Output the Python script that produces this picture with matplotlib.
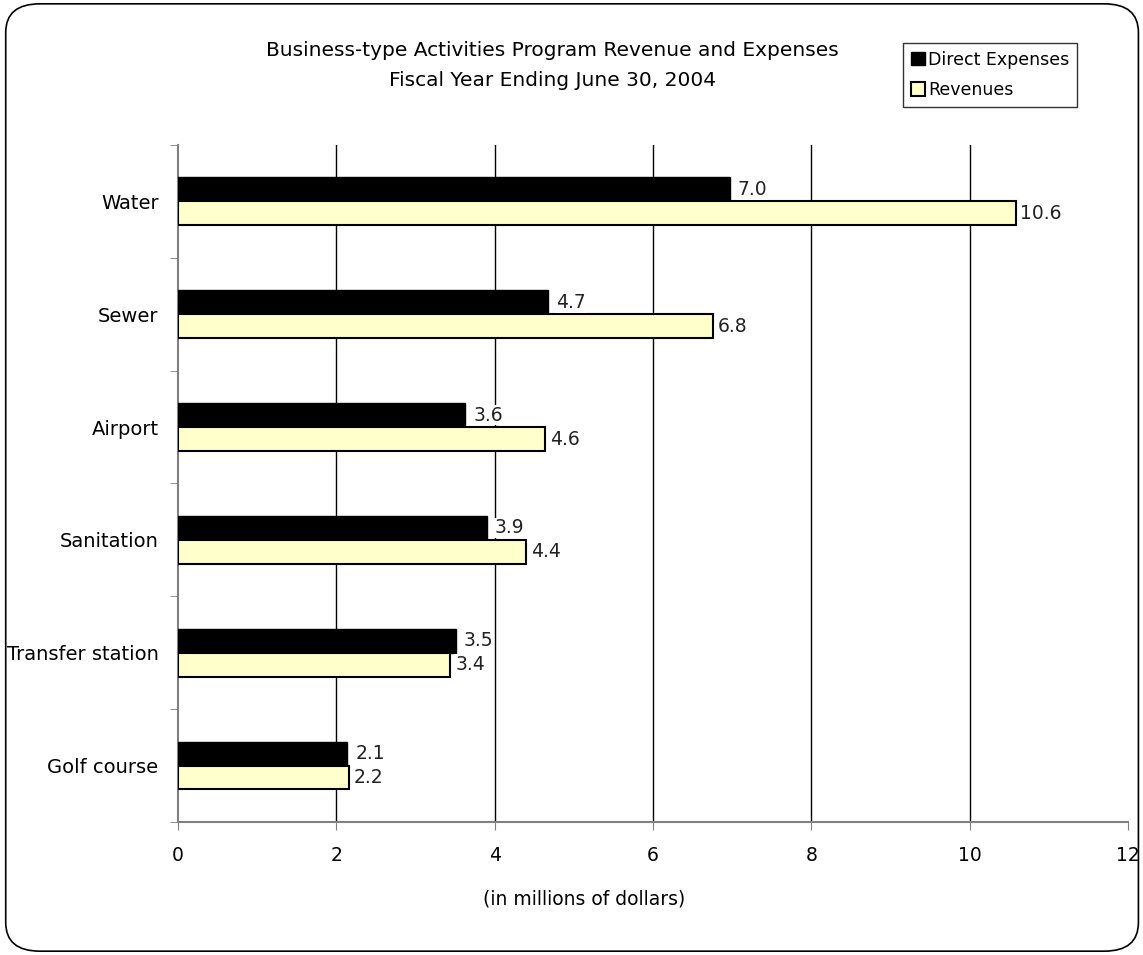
import matplotlib.pyplot as plt
import numpy as np
from matplotlib.patches import FancyBboxPatch, Patch

# Business-type activities, FY ending June 30, 2004 (millions of dollars)
categories = ['Water', 'Sewer', 'Airport', 'Sanitation', 'Transfer station', 'Golf course']
expenses = [6.97, 4.67, 3.63, 3.90, 3.51, 2.14]
revenues = [10.58, 6.76, 4.64, 4.40, 3.44, 2.16]
grid_x = [2, 4, 6, 8, 10]

plt.rcParams['font.family'] = ['DejaVu Sans']
grey = '#808080'

fig = plt.figure(figsize=(11.43, 9.55), dpi=100)
# rounded outer frame
fig.patches.append(FancyBboxPatch((0.005, 0.004), 0.991, 0.992, boxstyle='round,pad=0,rounding_size=0.03',
                                  transform=fig.transFigure, fill=False, ec='black', lw=1.2))

ax = fig.add_axes([0.1557, 0.1393, 0.8312, 0.7089])
n = len(categories)
y = np.arange(n)[::-1]
h = 0.212
ax.barh(y + h / 2, expenses, height=h, color='black', edgecolor='black', zorder=3)
ax.barh(y - h / 2, revenues, height=h, color='#ffffcc', edgecolor='black', lw=1.5, zorder=3)

for yi, v in zip(y, expenses):
    ax.text(v + 0.1, yi + h / 2, f'{v:.1f}', va='center', ha='left', fontsize=13.5, color='#222222',
            bbox=dict(fc='white', ec='none', pad=0.5), zorder=4)
for yi, v in zip(y, revenues):
    ax.text(v + 0.06, yi - h / 2, f'{v:.1f}', va='center', ha='left', fontsize=13.5, color='#222222',
            bbox=dict(fc='white', ec='none', pad=0.5), zorder=4)

for gx in grid_x:
    ax.axvline(gx, color='black', lw=1, zorder=1)

ax.set_xlim(0, 12)
ax.set_ylim(-0.5, n - 0.5)
ax.set_xticks(range(0, 13, 2))
ax.set_yticks(y)
ax.set_yticklabels(categories, fontsize=14)
ax.set_yticks(np.arange(-0.5, n, 1), minor=True)
ax.tick_params(axis='y', which='major', length=0, pad=14)
ax.tick_params(axis='y', which='minor', length=6, color=grey, direction='out')
ax.tick_params(axis='x', length=6, color=grey, direction='out', labelsize=13.5, pad=11)
for s in ['top', 'right']:
    ax.spines[s].set_visible(False)
for s in ['left', 'bottom']:
    ax.spines[s].set_color(grey)
    ax.spines[s].set_linewidth(1.5)
ax.set_xlabel('(in millions of dollars)', fontsize=13.5)
ax.xaxis.set_label_coords(0.428, -0.10)

fig.text(0.483, 0.947, 'Business-type Activities Program Revenue and Expenses', ha='center', va='center', fontsize=14.5)
fig.text(0.483, 0.916, 'Fiscal Year Ending June 30, 2004', ha='center', va='center', fontsize=14.5)

handles = [Patch(fc='black', ec='black', label='Direct Expenses'),
           Patch(fc='#ffffcc', ec='black', lw=1.5, label='Revenues')]
leg = fig.legend(handles=handles, loc='upper left', bbox_to_anchor=(0.79, 0.955), fontsize=12.5,
                 frameon=True, fancybox=False, edgecolor='black', handlelength=0.8, handleheight=0.8,
                 handletextpad=0.2, borderpad=0.45, labelspacing=0.7, borderaxespad=0)
leg.get_frame().set_linewidth(1)

plt.savefig('out.png', dpi=100)
